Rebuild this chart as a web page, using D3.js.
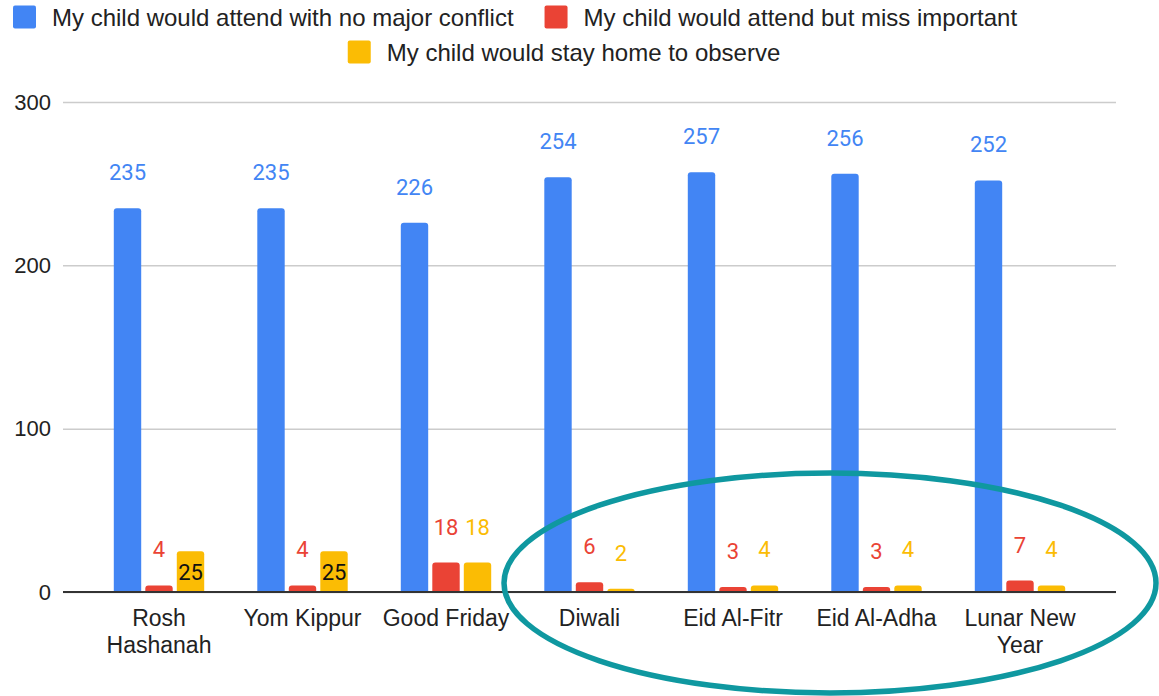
<!DOCTYPE html>
<html>
<head>
<meta charset="utf-8">
<script src="https://cdn.jsdelivr.net/npm/d3@7"></script>
<style>
  body { margin: 0; background: #fff; }
  svg { display: block; }
  text { font-family: "Liberation Sans", Arial, sans-serif; }
</style>
</head>
<body>
<div id="container"></div>
<script>
var w = 1159,
  h = 696;

// data
var holidays = ["Rosh Hashanah", "Yom Kippur", "Good Friday", "Diwali", "Eid Al-Fitr", "Eid Al-Adha", "Lunar New Year"];
var seriesNames = [
  "My child would attend with no major conflict",
  "My child would attend but miss important",
  "My child would stay home to observe"
];
var noConflict = [235, 235, 226, 254, 257, 256, 252];
var missImportant = [4, 4, 18, 6, 3, 3, 7];
var stayHome = [25, 25, 18, 2, 4, 4, 4];
var yTicks = [0, 100, 200, 300];

var colors = ["#4285f4", "#ea4335", "#fbbc04"];
var seriesValues = [noConflict, missImportant, stayHome];

var svg = d3.select("#container").append("svg")
  .attr("width", w)
  .attr("height", h);

var x0 = d3.scaleBand()
  .domain(holidays)
  .range([63, 1116])
  .paddingInner(0.37)
  .paddingOuter(0.354);

var x1 = d3.scaleBand()
  .domain([0, 1, 2])
  .range([0, x0.bandwidth()])
  .paddingInner(0.13)
  .paddingOuter(0);

var y = d3.scaleLinear()
  .domain([0, 300])
  .range([592, 102]);

// gridlines + tick labels
var yAxis = svg.append("g")
  .attr("transform", "translate(63,0)")
  .call(d3.axisLeft(y).tickValues(yTicks).tickSize(-(1116 - 63)).tickPadding(12));
yAxis.select(".domain").remove();
yAxis.selectAll(".tick line").attr("stroke", "#cccccc").attr("stroke-width", 1.5);
yAxis.selectAll(".tick text")
  .attr("fill", "#222")
  .style("font-size", "22px")
  .style("font-family", "'Liberation Sans', Arial, sans-serif");

// bars with rounded tops
function topRounded(x, yTop, bw, bh, r) {
  r = Math.min(r, bh, bw / 2);
  return "M" + x + "," + (yTop + bh) +
    "V" + (yTop + r) +
    "Q" + x + "," + yTop + " " + (x + r) + "," + yTop +
    "H" + (x + bw - r) +
    "Q" + (x + bw) + "," + yTop + " " + (x + bw) + "," + (yTop + r) +
    "V" + (yTop + bh) + "Z";
}

var rows = holidays.map(function (d, i) {
  return seriesValues.map(function (vals, s) {
    return { holiday: d, s: s, value: vals[i] };
  });
});

var groups = svg.append("g").selectAll("g")
  .data(rows)
  .enter()
  .append("g")
  .attr("transform", function (d) { return "translate(" + x0(d[0].holiday) + ",0)"; });

groups.selectAll("path")
  .data(function (d) { return d; })
  .enter()
  .append("path")
  .attr("fill", function (d) { return colors[d.s]; })
  .attr("d", function (d) {
    return topRounded(x1(d.s), y(d.value), x1.bandwidth(), y(0) - y(d.value), 3);
  });

// the two tall yellow bars carry their label inside, in black
function labelInside(d) {
  return d.s === 2 && d.value > 20;
}

groups.selectAll("text.val")
  .data(function (d) { return d; })
  .enter()
  .append("text")
  .attr("class", "val")
  .attr("text-anchor", "middle")
  .attr("x", function (d) { return x1(d.s) + x1.bandwidth() / 2; })
  .attr("y", function (d) {
    if (labelInside(d)) return (y(d.value) + y(0)) / 2 + 8;
    return y(d.value) - 28;
  })
  .attr("fill", function (d) { return labelInside(d) ? "#111" : colors[d.s]; })
  .style("font-family", "Roboto, 'Liberation Sans', Arial, sans-serif")
  .style("font-size", "22px")
  .text(function (d) { return d.value; });

// baseline
svg.append("line")
  .attr("x1", 63).attr("x2", 1116)
  .attr("y1", y(0)).attr("y2", y(0))
  .attr("stroke", "#333").attr("stroke-width", 2);

// category labels, wrapped to the band step
var xLabels = svg.append("g").selectAll("text")
  .data(holidays)
  .enter()
  .append("text")
  .attr("text-anchor", "middle")
  .attr("fill", "#222")
  .style("font-size", "23px")
  .attr("x", function (d) { return x0(d) + x0.bandwidth() / 2; })
  .attr("y", 626);

xLabels.each(function (d) {
  var el = d3.select(this);
  var words = d.split(" ");
  var maxW = x0.step() - 6;
  var lines = [];
  var line = [];
  var probe = el.append("tspan");
  words.forEach(function (wd) {
    line.push(wd);
    probe.text(line.join(" "));
    if (probe.node().getComputedTextLength() > maxW && line.length > 1) {
      line.pop();
      lines.push(line.join(" "));
      line = [wd];
    }
  });
  lines.push(line.join(" "));
  probe.remove();
  var cx = el.attr("x");
  lines.forEach(function (l, k) {
    el.append("tspan")
      .attr("x", cx)
      .attr("dy", k === 0 ? 0 : 27)
      .text(l);
  });
});

// legend
var legend = svg.append("g");
function legendItem(g, i, xStart, cy) {
  g.append("rect")
    .attr("x", xStart).attr("y", cy - 11.5)
    .attr("width", 23).attr("height", 23)
    .attr("rx", 2)
    .attr("fill", colors[i]);
  var t = g.append("text")
    .attr("x", xStart + 39)
    .attr("y", cy + 8.5)
    .attr("fill", "#222")
    .style("font-size", "24px")
    .text(seriesNames[i]);
  return xStart + 39 + t.node().getComputedTextLength();
}
var end0 = legendItem(legend, 0, 13, 17);
legendItem(legend, 1, end0 + 31, 17);

var row2 = legend.append("g");
var end2 = legendItem(row2, 2, 0, 52);
row2.attr("transform", "translate(" + (564 - end2 / 2) + ",0)");

// annotation ellipse around the last four holidays
svg.append("ellipse")
  .attr("cx", 830)
  .attr("cy", 583)
  .attr("rx", 326)
  .attr("ry", 110)
  .attr("fill", "none")
  .attr("stroke", "#0f98a0")
  .attr("stroke-width", 5.5);
</script>
</body>
</html>
